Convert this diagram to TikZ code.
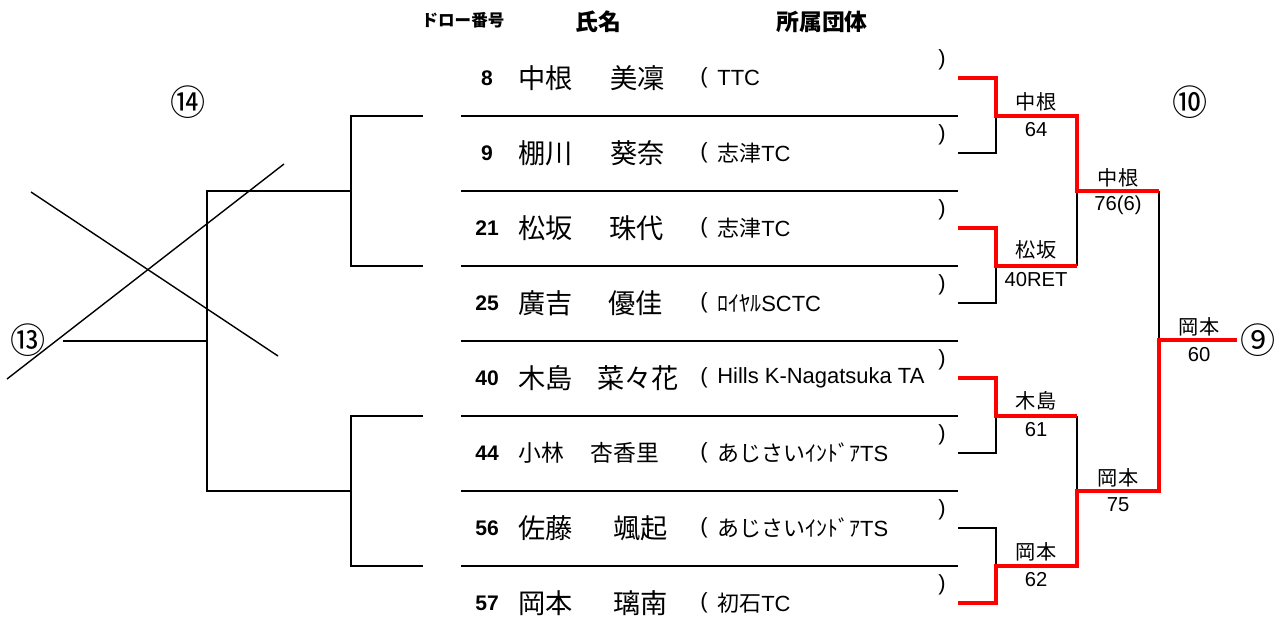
\documentclass[tikz,border=0pt]{standalone}
\usepackage{fontspec}
\setmainfont{Liberation Sans}
\newfontfamily\jp{Noto Sans CJK JP}

\begin{document}
\begin{tikzpicture}
  [x=0.02cm, y=-0.02cm,
  num/.style={font=\bfseries\fontsize{12}{14}\selectfont},
  nm/.style={anchor=west, inner sep=0pt, font=\jp\fontsize{15.5}{18}\selectfont},
  club/.style={anchor=west, inner sep=0pt, font=\fontsize{12.5}{15}\selectfont},
  paren/.style={inner sep=0pt, font=\fontsize{12.5}{15}\selectfont},
  head/.style={font=\jp\bfseries\fontsize{13}{15}\selectfont},
  score/.style={font=\fontsize{11.5}{14}\selectfont},
  circ/.style={font=\jp\fontsize{20}{24}\selectfont},
  rule/.style={line width=1.1pt},
  thin/.style={line width=0.8pt},
  win/.style={red, line width=2.2pt}]

\useasboundingbox (0,0) rectangle (1285,639);

% Column heads
\node[head, font=\jp\bfseries\fontsize{9.4}{11}\selectfont] (hd) at (463,20) {ドロー番号};
\node[head] (hn) at (598,22) {氏名};
\node[head] (hc) at (822,22) {所属団体};

% Players
\node[num] (d1) at (487,78) {8};
\node[nm] (sn1) at (518,78) {中根};
\node[nm] (gn1) at (610,78) {美凜};
\node[paren] (lp1) at (704,78) {(};
\node[club] (c1) at (717,78) {TTC};
\node[paren] (rp1) at (942,60) {)};

\node[num] (d2) at (487,153) {9};
\node[nm] (sn2) at (518,153) {棚川};
\node[nm] (gn2) at (610,153) {葵奈};
\node[paren] (lp2) at (704,153) {(};
\node[club] (c2) at (717,153) {{\jp 志津}TC};
\node[paren] (rp2) at (942,135) {)};

\node[num] (d3) at (487,228) {21};
\node[nm] (sn3) at (518,228) {松坂};
\node[nm] (gn3) at (609,228) {珠代};
\node[paren] (lp3) at (704,228) {(};
\node[club] (c3) at (717,228) {{\jp 志津}TC};
\node[paren] (rp3) at (942,210) {)};

\node[num] (d4) at (487,303) {25};
\node[nm] (sn4) at (518,303) {廣吉};
\node[nm] (gn4) at (608,303) {優佳};
\node[paren] (lp4) at (704,303) {(};
\node[club] (c4) at (717,303) {{\jp ﾛｲﾔﾙ}SCTC};
\node[paren] (rp4) at (942,285) {)};

\node[num] (d5) at (487,378) {40};
\node[nm] (sn5) at (518,378) {木島};
\node[nm] (gn5) at (597,378) {菜々花};
\node[paren] (lp5) at (704,378) {(};
\node[club] (c5) at (717,378) {Hills K-Nagatsuka TA};
\node[paren] (rp5) at (942,360) {)};

\node[num] (d6) at (487,453) {44};
\node[nm, font=\jp\fontsize{13}{15}\selectfont] (sn6) at (518,453) {小林};
\node[nm, font=\jp\fontsize{13}{15}\selectfont] (gn6) at (590,453) {杏香里};
\node[paren] (lp6) at (704,453) {(};
\node[club] (c6) at (717,453) {{\jp あじさいｲﾝﾄﾞｱ}TS};
\node[paren] (rp6) at (942,435) {)};

\node[num] (d7) at (487,528) {56};
\node[nm] (sn7) at (518,528) {佐藤};
\node[nm] (gn7) at (613,528) {颯起};
\node[paren] (lp7) at (704,528) {(};
\node[club] (c7) at (717,528) {{\jp あじさいｲﾝﾄﾞｱ}TS};
\node[paren] (rp7) at (942,510) {)};

\node[num] (d8) at (487,603) {57};
\node[nm] (sn8) at (518,603) {岡本};
\node[nm] (gn8) at (613,603) {璃南};
\node[paren] (lp8) at (704,603) {(};
\node[club] (c8) at (717,603) {{\jp 初石}TC};
\node[paren] (rp8) at (942,585) {)};

% Rules between the rows
\draw[rule] (461,116) -- (958,116);
\draw[rule] (461,191) -- (958,191);
\draw[rule] (461,266) -- (958,266);
\draw[rule] (461,341) -- (958,341);
\draw[rule] (461,416) -- (958,416);
\draw[rule] (461,491) -- (958,491);
\draw[rule] (461,566) -- (958,566);

% Bracket points, right side
\coordinate (p1) at (958,78);
\coordinate (p2) at (958,153);
\coordinate (p3) at (958,228);
\coordinate (p4) at (958,303);
\coordinate (p5) at (958,378);
\coordinate (p6) at (958,453);
\coordinate (p7) at (958,528);
\coordinate (p8) at (958,603);
\coordinate (q1) at (996,116);
\coordinate (q2) at (996,266);
\coordinate (q3) at (996,416);
\coordinate (q4) at (996,566);
\coordinate (s1) at (1077,191);
\coordinate (s2) at (1077,491);
\coordinate (f) at (1159,340);
\coordinate (out) at (1237,340);

% Losers in black
\draw[rule] (p2) -| (q1);
\draw[rule] (p4) -| (q2);
\draw[rule] (p6) -| (q3);
\draw[rule] (p7) -| (q4);
\draw[rule] (q2 -| s1) -- (s1);
\draw[rule] (q3 -| s2) -- (s2);
\draw[rule] (s1 -| f) -- (f);
% Winners in red
\draw[win] (p1) -| (q1) -| (s1) -- (s1 -| f);
\draw[win] (p3) -| (q2) -- (q2 -| s1);
\draw[win] (p5) -| (q3) -- (q3 -| s2);
\draw[win] (p8) -| (q4) -| (s2) -| (f) -- (out);

% Results
\node[score] (w1) at (1036,102) {\jp 中根};
\node[score] (r1) at (1036,130) {64};
\node[score] (w2) at (1036,250) {\jp 松坂};
\node[score] (r2) at (1036,280) {40RET};
\node[score] (w3) at (1036,401) {\jp 木島};
\node[score] (r3) at (1036,430) {61};
\node[score] (w4) at (1036,552) {\jp 岡本};
\node[score] (r4) at (1036,580) {62};
\node[score] (w5) at (1118,178) {\jp 中根};
\node[score] (r5) at (1118,205) {76(6)};
\node[score] (w6) at (1118,478) {\jp 岡本};
\node[score] (r6) at (1118,505) {75};
\node[score] (w7) at (1199,327) {\jp 岡本};
\node[score] (r7) at (1199,355) {60};

% Left side bracket
\coordinate (l1) at (423,116);
\coordinate (l2) at (423,266);
\coordinate (l3) at (423,416);
\coordinate (l4) at (423,566);
\coordinate (k1) at (351,191);
\coordinate (k2) at (351,491);
\coordinate (j) at (207,341);
\coordinate (j0) at (63,341);
\draw[rule] (l1) -| (k1) |- (l2);
\draw[rule] (l3) -| (k2) |- (l4);
\draw[rule] (k1) -| (j) |- (k2);
\draw[rule] (j) -- (j0);

% Cross
\draw[thin] (31,192) -- (278,356);
\draw[thin] (7,379) -- (284,164);

% Match numbers
\node[circ] (m14) at (188,102) {⑭};
\node[circ] (m13) at (28,340) {⑬};
\node[circ] (m10) at (1190,102) {⑩};
\node[circ] (m9) at (1258,340) {⑨};

\end{tikzpicture}
\end{document}
